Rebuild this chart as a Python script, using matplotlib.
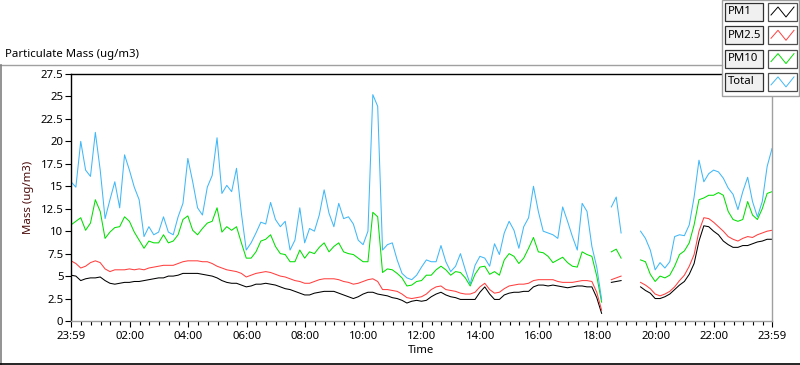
import numpy as np
import matplotlib
matplotlib.use("Agg")
import matplotlib.pyplot as plt
from matplotlib.lines import Line2D
from matplotlib.patches import Rectangle

plt.rcParams['font.family'] = ['Noto Sans', 'DejaVu Sans']

# logger samples every 10 minutes, starting 23:59 (nan = no data)
nan = np.nan
minutes = list(range(0, 1441, 10))

pm1 = [5.1, 5.0, 4.5, 4.7, 4.8, 4.8, 4.9, 4.5, 4.2, 4.1,
       4.2, 4.3, 4.3, 4.4, 4.4, 4.5, 4.6, 4.7, 4.8, 4.8,
       5.0, 5.0, 5.1, 5.3, 5.3, 5.3, 5.3, 5.2, 5.1, 5.0,
       4.8, 4.5, 4.3, 4.2, 4.2, 4.0, 3.8, 3.9, 4.1, 4.1,
       4.2, 4.1, 4.0, 3.8, 3.6, 3.5, 3.3, 3.1, 2.9, 2.9,
       3.1, 3.2, 3.3, 3.3, 3.3, 3.1, 2.9, 2.7, 2.5, 2.7,
       3.0, 3.2, 3.2, 3.0, 2.9, 2.8, 2.6, 2.5, 2.3, 2.0,
       2.2, 2.3, 2.2, 2.3, 2.7, 3.0, 3.2, 2.9, 2.7, 2.6,
       2.4, 2.4, 2.4, 2.4, 3.2, 3.8, 3.0, 2.4, 2.4, 2.9,
       3.1, 3.2, 3.2, 3.3, 3.3, 3.8, 4.0, 4.0, 3.9, 4.0,
       3.9, 3.8, 3.7, 3.8, 3.9, 3.9, 3.8, 3.8, 2.6, 0.85,
       nan, 4.3, 4.4, 4.5, nan, nan, nan, 3.8, 3.4, 3.1,
       2.5, 2.5, 2.7, 3.0, 3.5, 4.0, 4.4, 5.2, 6.4, 8.9,
       10.6, 10.5, 10.0, 9.6, 8.9, 8.5, 8.2, 8.2, 8.4, 8.4,
       8.6, 8.8, 8.9, 9.1, 9.1]

pm25 = [6.7, 6.4, 5.9, 6.1, 6.5, 6.7, 6.5, 5.8, 5.5, 5.7,
        5.7, 5.7, 5.8, 5.7, 5.8, 5.7, 5.9, 6.0, 6.1, 6.2,
        6.2, 6.2, 6.4, 6.6, 6.7, 6.7, 6.7, 6.6, 6.6, 6.4,
        6.1, 5.9, 5.7, 5.6, 5.5, 5.3, 4.9, 5.1, 5.3, 5.4,
        5.5, 5.4, 5.2, 5.0, 4.9, 4.7, 4.5, 4.4, 4.2, 4.2,
        4.4, 4.6, 4.7, 4.7, 4.7, 4.6, 4.4, 4.3, 4.1, 4.2,
        4.4, 4.6, 4.7, 4.4, 3.5, 3.5, 3.4, 3.3, 3.0, 2.6,
        2.5, 2.6, 2.7, 3.0, 3.5, 3.8, 3.9, 3.5, 3.4, 3.3,
        3.1, 3.0, 3.0, 3.2, 3.8, 4.2, 3.5, 3.1, 3.2, 3.6,
        3.9, 4.0, 4.1, 4.1, 4.2, 4.5, 4.6, 4.6, 4.6, 4.6,
        4.4, 4.3, 4.3, 4.3, 4.4, 4.5, 4.5, 4.4, 3.2, 1.2,
        nan, 4.6, 4.8, 5.0, nan, nan, nan, 4.3, 4.0, 3.6,
        3.0, 2.8, 3.0, 3.3, 3.8, 4.5, 5.1, 6.1, 7.4, 10.0,
        11.5, 11.4, 11.0, 10.5, 10.0, 9.4, 9.1, 8.9, 9.2, 9.4,
        9.3, 9.6, 9.8, 10.0, 10.1]

pm10 = [10.7, 11.1, 11.5, 10.1, 10.9, 13.5, 12.2, 9.2, 9.9, 10.4,
        10.5, 11.6, 11.1, 9.9, 9.0, 8.1, 8.9, 8.7, 8.7, 9.6,
        8.7, 8.9, 9.6, 11.3, 11.7, 10.1, 9.6, 10.3, 10.9, 11.1,
        12.6, 9.9, 10.5, 10.1, 10.5, 8.7, 7.0, 7.0, 7.7, 8.9,
        9.1, 9.6, 8.3, 7.5, 7.4, 6.6, 6.6, 7.9, 7.0, 7.7,
        7.5, 8.2, 8.7, 7.7, 8.3, 8.7, 7.7, 7.5, 7.4, 7.0,
        6.6, 6.6, 12.1, 11.6, 5.4, 5.8, 5.7, 5.3, 4.8, 3.9,
        4.0, 4.4, 4.5, 5.1, 5.1, 5.7, 6.1, 5.7, 5.1, 5.5,
        5.4, 4.8, 3.9, 5.2, 6.0, 6.1, 5.2, 5.5, 5.1, 6.8,
        7.5, 7.2, 6.4, 7.0, 8.1, 9.3, 7.7, 7.6, 7.2, 6.5,
        6.8, 7.1, 6.5, 6.1, 6.0, 7.7, 7.4, 7.2, 5.0, 2.1,
        nan, 7.7, 8.0, 7.0, nan, nan, nan, 6.8, 6.6, 5.2,
        4.4, 5.0, 4.8, 5.1, 6.1, 7.4, 7.8, 8.7, 10.7, 13.5,
        13.7, 14.0, 14.0, 14.3, 14.0, 12.2, 11.3, 11.1, 11.3, 13.3,
        11.8, 11.3, 12.5, 14.2, 14.4]

total = [15.5, 14.9, 20.0, 16.8, 16.1, 21.0, 16.8, 11.4, 13.5, 15.5,
         12.6, 18.5, 16.8, 14.9, 13.5, 9.4, 10.5, 9.6, 9.9, 11.6,
         9.9, 9.6, 11.6, 13.1, 18.1, 15.5, 12.6, 11.8, 14.9, 16.2,
         20.4, 14.2, 15.1, 14.4, 17.0, 12.0, 7.9, 8.7, 9.8, 11.0,
         10.8, 13.2, 11.3, 10.5, 11.1, 7.9, 9.0, 12.6, 8.7, 10.3,
         10.0, 11.8, 14.6, 12.0, 10.5, 13.1, 11.4, 11.6, 10.8, 9.0,
         8.5, 10.0, 25.2, 23.9, 7.9, 8.5, 8.7, 6.8, 5.3, 4.8,
         4.6, 5.1, 6.0, 6.8, 6.6, 6.6, 8.4, 6.6, 5.5, 6.1,
         7.5, 5.7, 4.1, 6.2, 7.2, 7.0, 6.1, 8.6, 7.4, 9.8,
         11.1, 10.1, 8.1, 10.5, 11.5, 15.0, 12.2, 10.0, 9.8, 9.6,
         9.2, 12.7, 11.1, 9.4, 7.9, 13.1, 12.2, 8.3, 6.0, 2.4,
         nan, 12.7, 13.8, 9.8, nan, nan, nan, 10.0, 9.2, 7.9,
         5.7, 6.5, 5.9, 6.6, 9.4, 9.6, 9.5, 10.7, 13.8, 17.9,
         15.5, 16.4, 16.8, 16.6, 15.9, 14.8, 14.1, 12.4, 14.4, 16.0,
         13.3, 11.6, 13.3, 17.2, 19.2]

names = ['PM1', 'PM2.5', 'PM10', 'Total']
colors = ['#000000', '#ff4040', '#00e000', '#40b8f8']
series = [pm1, pm25, pm10, total]

tick_pos = [0, 121, 241, 361, 481, 601, 721, 841, 961, 1081, 1201, 1321, 1440]
tick_lab = ['23:59', '02:00', '04:00', '06:00', '08:00', '10:00', '12:00',
            '14:00', '16:00', '18:00', '20:00', '22:00', '23:59']
y_ticks = [0, 2.5, 5, 7.5, 10, 12.5, 15, 17.5, 20, 22.5, 25, 27.5]

W, H = 800, 365
FS = 8.2


def fx(x):
    return x / W


def fy(y):
    return 1 - y / H


fig = plt.figure(figsize=(8, 3.65), dpi=100)
ax = fig.add_axes([fx(71), fy(321), (772 - 71) / W, (321 - 74) / H])

for vals, name, col in zip(series, names, colors):
    ax.plot(minutes, vals, color=col, lw=0.75, label=name)

ax.set_xlim(0, 1440)
ax.set_ylim(0, 27.5)
ax.set_yticks(y_ticks)
ax.set_yticklabels([('%g' % v) for v in y_ticks])
ax.set_xticks(tick_pos)
ax.set_xticklabels(tick_lab)
ax.set_xticks([1 + 20 * m for m in range(1, 72)], minor=True)
ax.tick_params(axis='both', labelsize=FS, color='black', width=0.8, pad=1.5)
ax.tick_params(axis='y', length=4)
ax.tick_params(axis='x', which='major', length=4.5, pad=3)
ax.tick_params(axis='x', which='minor', length=3, width=0.8)

for side in ['top', 'left']:
    ax.spines[side].set_color('black')
    ax.spines[side].set_linewidth(1.0)
for side in ['bottom', 'right']:
    ax.spines[side].set_color('#a0a0a0')
    ax.spines[side].set_linewidth(1.0)

ax.set_xlabel('Time', fontsize=FS, labelpad=2)
ax.set_ylabel('Mass (ug/m3)', fontsize=FS, color='#4a0a0a', labelpad=5)

# frame and title of the graph panel
fig.add_artist(Line2D([fx(0), fx(722)], [fy(65), fy(65)], color='#a0a0a0', lw=1.0))
fig.add_artist(Line2D([fx(0.7), fx(0.7)], [fy(65), fy(364)], color='#808080', lw=1.2))
fig.add_artist(Line2D([fx(0), fx(800)], [fy(363.5), fy(363.5)], color='black', lw=1.2))
fig.text(fx(5), fy(55), 'Particulate Mass (ug/m3)', fontsize=FS, va='center', ha='left')

# plot legend box (label boxes on the left, line samples on the right)
fig.add_artist(Rectangle((fx(722), fy(96)), 77 / W, 96 / H, transform=fig.transFigure,
                         facecolor='white', edgecolor='#a0a0a0', lw=1.0))
for i, (name, col) in enumerate(zip(names, colors)):
    top = 3 + 23.3 * i
    fig.add_artist(Rectangle((fx(725), fy(top + 18)), 38 / W, 18 / H, transform=fig.transFigure,
                             facecolor='#f0f0f0', edgecolor='#303030', lw=0.9))
    fig.text(fx(728), fy(top + 9), name, fontsize=FS, va='center', ha='left')
    fig.add_artist(Rectangle((fx(768), fy(top + 18)), 29 / W, 18 / H, transform=fig.transFigure,
                             facecolor='white', edgecolor='#505050', lw=0.9))
    zx = [771, 778, 786, 794]
    zy = [top + 12, top + 4, top + 14, top + 4]
    fig.add_artist(Line2D([fx(v) for v in zx], [fy(v) for v in zy], color=col, lw=0.7))

fig.savefig('out.png', dpi=100, facecolor='white')
